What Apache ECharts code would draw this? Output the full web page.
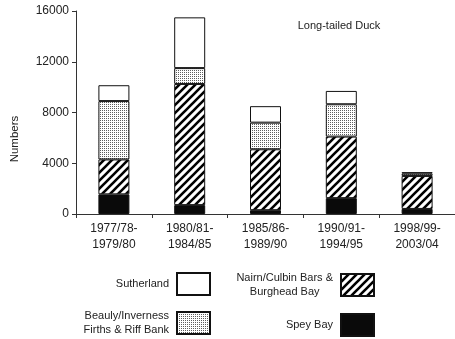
<!DOCTYPE html>
<html>
<head>
<meta charset="utf-8">
<script src="https://cdn.jsdelivr.net/npm/echarts@6/dist/echarts.min.js"></script>
<style>
  html, body { margin: 0; padding: 0; background: #fff; }
  #chart { width: 455px; height: 339px; }
</style>
</head>
<body>
<div id="chart"></div>
<script>
// Long-tailed Duck counts per survey period, stacked by site
const periods = ['1977/78-\n1979/80', '1980/81-\n1984/85', '1985/86-\n1989/90', '1990/91-\n1994/95', '1998/99-\n2003/04'];
const speyBay = [1550, 700, 300, 1250, 400];
const nairnCulbin = [2750, 9550, 4800, 4850, 2600];
const beaulyInverness = [4600, 1250, 2100, 2550, 180];
const sutherland = [1250, 4000, 1300, 1050, 120];
const yTicks = { min: 0, max: 16000, interval: 4000 };

const FONT = '"Liberation Sans", Arial, sans-serif';
const INK = '#222';

// Fill patterns: diagonal hatching and fine grey stipple
function hatchPattern() {
  const s = 8;
  const c = document.createElement('canvas');
  c.width = s; c.height = s;
  const g = c.getContext('2d');
  g.fillStyle = '#fff'; g.fillRect(0, 0, s, s);
  g.strokeStyle = '#000'; g.lineWidth = 2.6; g.lineCap = 'square';
  g.beginPath();
  g.moveTo(0, s); g.lineTo(s, 0);
  g.moveTo(-s / 2, s / 2); g.lineTo(s / 2, -s / 2);
  g.moveTo(s / 2, s + s / 2); g.lineTo(s + s / 2, s / 2);
  g.stroke();
  return c;
}
function stipplePattern() {
  const c = document.createElement('canvas');
  c.width = 2; c.height = 2;
  const g = c.getContext('2d');
  g.fillStyle = '#fff'; g.fillRect(0, 0, 2, 2);
  g.fillStyle = '#5e5e5e'; g.fillRect(0, 0, 1, 1);
  return c;
}
const hatch = { image: hatchPattern(), repeat: 'repeat' };
const stipple = { image: stipplePattern(), repeat: 'repeat' };

const seriesDefs = [
  { name: 'Spey Bay', data: speyBay, color: '#0a0a0a' },
  { name: 'Nairn/Culbin Bars & Burghead Bay', data: nairnCulbin, color: hatch },
  { name: 'Beauly/Inverness Firths & Riff Bank', data: beaulyInverness, color: stipple },
  { name: 'Sutherland', data: sutherland, color: '#ffffff' }
];

const legendText = {
  'Sutherland': 'Sutherland',
  'Beauly/Inverness Firths & Riff Bank': 'Beauly/Inverness\nFirths & Riff Bank',
  'Nairn/Culbin Bars & Burghead Bay': '{c|Nairn/Culbin Bars &}\n{c|Burghead Bay}',
  'Spey Bay': 'Spey Bay'
};

function legendAt(name, right, top) {
  return {
    data: [name],
    right: right, top: top,
    orient: 'horizontal', align: 'right',
    icon: 'rect', itemWidth: 33, itemHeight: 22, itemGap: 0, padding: 0,
    selectedMode: false,
    formatter: n => legendText[n],
    textStyle: {
      fontFamily: FONT, fontSize: 11, color: INK, lineHeight: 14,
      padding: [0, 3, 0, 0],
      rich: { c: { align: 'center', fontFamily: FONT, fontSize: 11, color: INK, lineHeight: 14 } }
    }
  };
}

const chart = echarts.init(document.getElementById('chart'), null, { renderer: 'canvas' });
chart.setOption({
  animation: false,
  backgroundColor: '#fff',
  title: {
    text: 'Long-tailed Duck',
    left: 334, top: 15, textAlign: 'center',
    textStyle: { fontFamily: FONT, fontSize: 11, fontWeight: 'normal', color: INK }
  },
  grid: { left: 76, top: 11, width: 383, height: 203, containLabel: false },
  xAxis: {
    type: 'category',
    data: periods,
    axisLine: { lineStyle: { color: '#333', width: 1 } },
    axisTick: { show: true, length: 4, interval: 0, lineStyle: { color: '#333' } },
    axisLabel: { interval: 0, margin: 7, fontFamily: FONT, fontSize: 12, color: INK, lineHeight: 16 }
  },
  yAxis: {
    type: 'value',
    min: yTicks.min, max: yTicks.max, interval: yTicks.interval,
    axisLine: { show: true, lineStyle: { color: '#333', width: 1 } },
    axisTick: { show: true, length: 4, lineStyle: { color: '#333' } },
    axisLabel: { margin: 7, fontFamily: FONT, fontSize: 12, color: INK, formatter: v => String(v) },
    splitLine: { show: false }
  },
  legend: [
    legendAt('Sutherland', 244, 272),
    legendAt('Beauly/Inverness Firths & Riff Bank', 244, 309),
    legendAt('Nairn/Culbin Bars & Burghead Bay', 80, 271),
    legendAt('Spey Bay', 80, 313)
  ],
  graphic: [{
    type: 'text', x: 15, y: 139, rotation: Math.PI / 2,
    style: { text: 'Numbers', fontFamily: FONT, fontSize: 11.5, fill: INK, align: 'center', verticalAlign: 'middle' }
  }],
  series: seriesDefs.map(s => ({
    name: s.name,
    type: 'bar',
    stack: 'total',
    barWidth: 31,
    data: s.data,
    itemStyle: { color: s.color, borderColor: '#111', borderWidth: 1 },
    emphasis: { disabled: true }
  }))
});
</script>
</body>
</html>
